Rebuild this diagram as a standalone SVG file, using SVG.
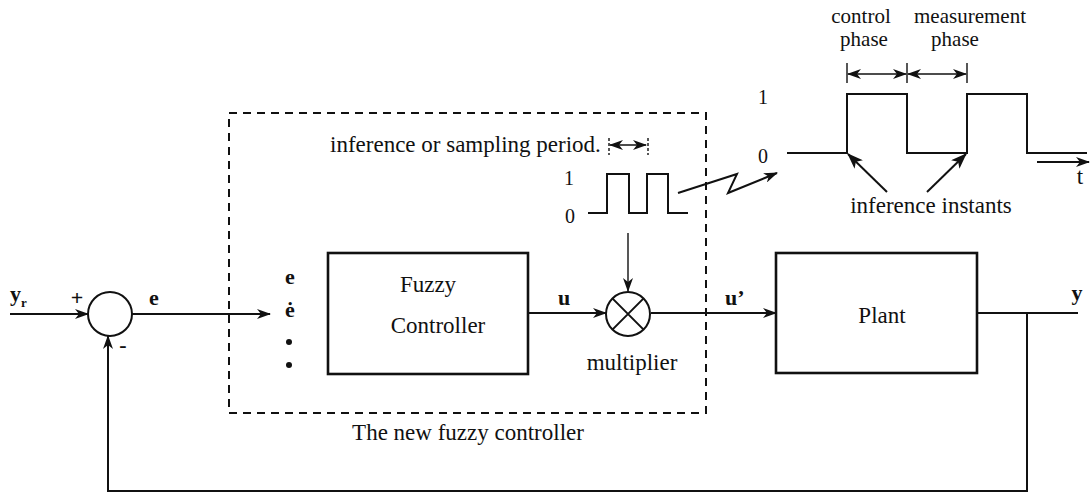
<svg xmlns="http://www.w3.org/2000/svg" width="1090" height="494" viewBox="0 0 1090 494">
<style>
text{font-family:"Liberation Serif","Times New Roman",serif;fill:#111}
.t{font-size:23px}
.h{font-size:21px}
.b{font-size:22px;font-weight:bold}
.n{font-size:20px}
.ln{fill:none;stroke:#111;stroke-width:2}
.bx{fill:none;stroke:#111;stroke-width:2.6}
.dash{fill:none;stroke:#111;stroke-width:2;stroke-dasharray:8 6}
.thin{fill:none;stroke:#111;stroke-width:1.4}
</style>
<defs>
<marker id="arr" viewBox="0 0 14 10" refX="13" refY="5" markerWidth="14" markerHeight="10" orient="auto-start-reverse" markerUnits="userSpaceOnUse">
<path d="M0,0 L14,5 L0,10 L4,5 z" fill="#111"/>
</marker>
<marker id="arrL" viewBox="0 0 16 12" refX="15" refY="6" markerWidth="16" markerHeight="12" orient="auto" markerUnits="userSpaceOnUse">
<path d="M0,0 L16,6 L0,12 L4,6 z" fill="#111"/>
</marker>
</defs>
<rect width="1090" height="494" fill="#fff"/>

<g id="new-fuzzy-controller">
<rect class="dash" x="229" y="113" width="477" height="300"/>
<text class="t" x="468" y="440" text-anchor="middle">The new fuzzy controller</text>
</g>

<g id="summing-junction">
<circle class="ln" cx="110" cy="314" r="22"/>
<text class="b" x="77" y="305" text-anchor="middle">+</text>
<text class="b" x="123" y="352" text-anchor="middle">-</text>
</g>

<g id="inputs">
<text class="b" x="290" y="284" text-anchor="middle">e</text>
<text class="b" x="290" y="317" text-anchor="middle">ė</text>
<circle cx="289" cy="342" r="3" fill="#111"/>
<circle cx="289" cy="365" r="3" fill="#111"/>
</g>

<g id="fuzzy-controller">
<rect class="bx" x="328" y="253" width="200" height="121"/>
<text class="t" x="428" y="292" text-anchor="middle">Fuzzy</text>
<text class="t" x="438" y="333" text-anchor="middle">Controller</text>
</g>

<g id="multiplier">
<circle class="ln" cx="628" cy="314" r="22"/>
<path class="ln" d="M612.4,298.4 L643.6,329.6 M643.6,298.4 L612.4,329.6"/>
<text class="t" x="632" y="370" text-anchor="middle">multiplier</text>
</g>

<g id="sampling-pulse">
<text class="t" x="330" y="152">inference or sampling period.</text>
<path class="ln" d="M588,213 H607 V174 H629 V213 H647 V174 H668 V213 H688"/>
<text class="n" x="569" y="185" text-anchor="middle">1</text>
<text class="n" x="570" y="223" text-anchor="middle">0</text>
<path class="thin" d="M609,138 V155 M648,138 V155" stroke-dasharray="3 2"/>
</g>

<g id="plant">
<rect class="bx" x="776" y="253" width="201" height="120"/>
<text class="t" x="882" y="323" text-anchor="middle">Plant</text>
</g>

<g id="timing-diagram">
<text class="h" x="861" y="23" text-anchor="middle">control</text>
<text class="h" x="864" y="46" text-anchor="middle">phase</text>
<text class="h" x="970" y="23" text-anchor="middle">measurement</text>
<text class="h" x="955" y="46" text-anchor="middle">phase</text>
<path class="thin" d="M847,63 V83 M907,63 V83 M967,63 V83"/>
<path class="ln" d="M787,153 H847 V94 H907 V153 H967 V94 H1027 V153 H1087" stroke-width="2.4"/>
<text class="n" x="763" y="104" text-anchor="middle">1</text>
<text class="n" x="763" y="163" text-anchor="middle">0</text>
<text class="t" x="931" y="213" text-anchor="middle">inference instants</text>
<text class="t" x="1080" y="184" text-anchor="middle">t</text>
</g>

<g id="connectors">
<path class="ln" d="M10,314 H88" marker-end="url(#arr)"/>
<path class="ln" d="M132,314 H270" marker-end="url(#arr)"/>
<path class="ln" d="M528,313 H606" marker-end="url(#arr)"/>
<path class="thin" d="M628,233 V291" stroke-width="1.6" marker-end="url(#arr)"/>
<path class="ln" d="M651,313 H776" marker-end="url(#arr)"/>
<path class="ln" d="M977,313 H1078"/>
<path class="ln" d="M1027,313 V491 H108 V336" marker-end="url(#arr)"/>
<path class="thin" d="M610,145 H646" stroke-width="1.6" marker-start="url(#arr)" marker-end="url(#arr)"/>
<path class="ln" d="M678,193 L737,174 L728,193 L777,173" marker-end="url(#arr)"/>
<path class="thin" d="M848,74 H906" stroke-width="1.6" marker-start="url(#arr)" marker-end="url(#arr)"/>
<path class="thin" d="M908,74 H966" stroke-width="1.6" marker-start="url(#arr)" marker-end="url(#arr)"/>
<path class="ln" d="M887,192 L848,154" marker-end="url(#arrL)"/>
<path class="ln" d="M927,192 L966,154" marker-end="url(#arrL)"/>
<path class="ln" d="M1037,162 H1089" marker-end="url(#arr)"/>
</g>

<g id="signal-labels">
<text class="b" x="10" y="301">y</text>
<text x="21" y="307" font-size="13" font-weight="bold">r</text>
<text class="b" x="154" y="305" text-anchor="middle">e</text>
<text class="b" x="564" y="305" text-anchor="middle">u</text>
<text class="b" x="725" y="305">u’</text>
<text class="b" x="1077" y="300" text-anchor="middle">y</text>
</g>
</svg>
